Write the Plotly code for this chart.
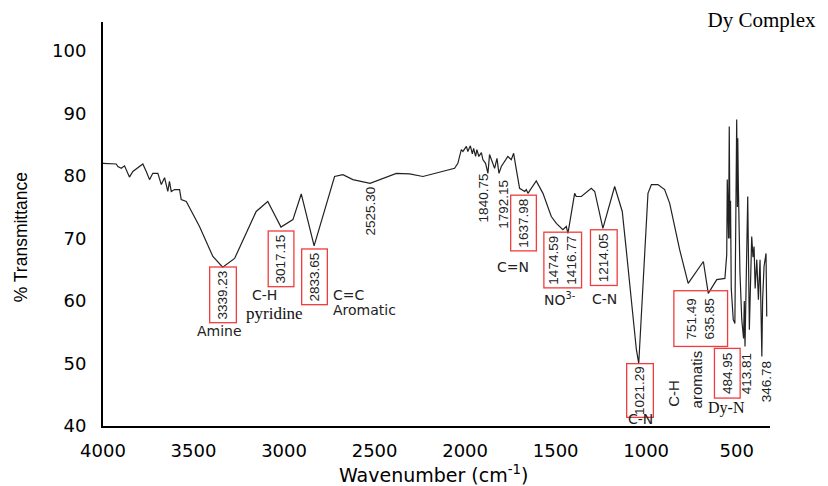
import plotly.graph_objects as go

# FT-IR spectrum of the Dy complex
wavenumber = [4000, 3927, 3918, 3899, 3881, 3854, 3835, 3780, 3761, 3743, 3725, 3697,
              3678, 3660, 3642, 3633, 3623, 3605, 3577, 3568, 3540, 3467, 3393, 3339,
              3273, 3154, 3090, 3017, 2951, 2905, 2834, 2730, 2721, 2675, 2620, 2525,
              2380, 2307, 2233, 2058, 2040, 2021, 2012, 1993, 1985, 1971, 1960, 1953,
              1942, 1935, 1924, 1910, 1902, 1887, 1874, 1865, 1850, 1837, 1824, 1813,
              1800, 1782, 1764, 1745, 1732, 1717, 1699, 1671, 1662, 1653, 1607, 1570,
              1524, 1496, 1460, 1441, 1432, 1395, 1386, 1358, 1303, 1284, 1239, 1174,
              1132, 1110, 1082, 1054, 1041, 1027, 1008, 990, 971, 935, 898, 870, 815,
              768, 684, 657, 610, 565, 555, 552, 545, 541, 537, 534, 530, 519, 510,
              506, 500, 496, 494, 491, 482, 472, 462, 458, 454, 439, 430, 417, 410,
              404, 398, 389, 380, 371, 361, 357, 349, 338, 334]
transmittance = [82.0, 81.9, 81.5, 81.2, 81.6, 79.8, 80.7, 81.9, 80.7, 79.4, 80.4, 80.4,
                 78.6, 79.7, 77.5, 79.1, 77.5, 77.8, 77.8, 76.2, 75.9, 71.9, 67.1, 65.4,
                 66.8, 74.3, 75.9, 71.8, 73.0, 77.1, 68.8, 79.4, 79.9, 80.2, 79.4, 78.8,
                 80.4, 80.3, 79.9, 81.2, 82.0, 84.2, 83.9, 84.7, 83.9, 84.8, 83.5, 84.4,
                 83.1, 84.2, 83.1, 83.7, 82.6, 82.0, 80.4, 83.4, 82.3, 81.2, 82.8, 80.4,
                 81.5, 82.3, 83.1, 82.6, 83.6, 81.0, 78.0, 77.5, 77.8, 77.2, 79.2, 77.2,
                 73.5, 72.4, 71.4, 71.9, 70.8, 77.2, 76.7, 76.7, 78.0, 77.5, 71.6, 78.3,
                 74.3, 68.2, 60.2, 52.2, 50.0, 57.5, 68.2, 77.2, 78.6, 78.6, 77.8, 75.6, 68.2,
                 62.8, 66.3, 61.2, 63.4, 63.6, 67.4, 79.4, 70.0, 87.9, 70.0, 76.0, 62.0, 57.0, 56.4,
                 70.0, 89.0, 75.0, 86.0, 78.9, 64.5, 57.0, 54.0, 60.0, 52.7, 76.7, 55.4, 70.3, 67.0,
                 68.7, 62.0, 66.6, 60.2, 66.6, 51.1, 60.0, 65.5, 67.6, 57.5]

x_ticks = [4000, 3500, 3000, 2500, 2000, 1500, 1000, 500]
y_ticks = [40, 50, 60, 70, 80, 90, 100]

x_title = "Wavenumber (cm<sup>-1</sup>)"
y_title = "% Transmittance"

# boxed peak labels
boxed_labels = ["3339.23", "3017.15", "2833.65", "1637.98", "1474.59<br>1416.77",
                "1214.05", "1021.29", "751.49<br>635.85", "484.95"]
# plain rotated peak labels
plain_labels = ["2525.30", "1840.75", "1792.15", "413.81", "346.78"]
# assignments
group_labels = ["Amine", "C-H", "C=C", "Aromatic", "C=N", "NO<sup>3-</sup>", "C-N", "C-N"]
serif_labels = ["pyridine", "Dy-N"]
rot_group_labels = ["C-H", "aromatis"]

sans = "Liberation Sans, Arial"
wide = "DejaVu Sans"
serif = "Liberation Serif, Times New Roman"
red = "#f03c3c"

fig = go.Figure()
fig.add_trace(go.Scatter(x=wavenumber, y=transmittance, mode="lines",
                         line=dict(color="#222222", width=1.2),
                         hoverinfo="skip", showlegend=False))

ann = []
boxed_pos = [(3339, 61.0, 50, 21), (3017.15, 66.8, 50, 20), (2833.65, 63.8, 50, 20),
             (1676, 72.5, 50, 20), (1460, 66.6, 50, 32), (1233, 67.0, 50, 21),
             (1034, 45.6, 48, 21), (699, 57.2, 50, 48), (552, 48.4, 44, 20)]
for txt, (x, y, w, h) in zip(boxed_labels, boxed_pos):
    ann.append(dict(x=x, y=y, text=txt, textangle=-90, showarrow=False,
                    width=w, height=h, borderpad=2, bordercolor=red, borderwidth=1.3,
                    font=dict(family=sans, size=13.5, color="#222")))

plain_pos = [(2525.3, 74.3), (1901, 76.4), (1790, 75.4), (444, 48.4), (334, 47.1)]
for txt, (x, y) in zip(plain_labels, plain_pos):
    ann.append(dict(x=x, y=y, text=txt, textangle=-90, showarrow=False,
                    font=dict(family=sans, size=13.5, color="#222")))

group_pos = [(3356, 55.2), (3107, 61.0), (2641, 61.0), (2554, 58.5),
             (1735, 65.4), (1476, 60.3), (1228, 60.3), (1034, 41.2)]
for txt, (x, y) in zip(group_labels, group_pos):
    ann.append(dict(x=x, y=y, text=txt, showarrow=False,
                    font=dict(family=wide, size=14, color="#222")))

serif_pos = [(3055, 58.0), (555, 42.8)]
serif_sizes = [17, 16]
for txt, (x, y), s in zip(serif_labels, serif_pos, serif_sizes):
    ann.append(dict(x=x, y=y, text=txt, showarrow=False,
                    font=dict(family=serif, size=s, color="#111")))

rot_pos = [(850, 45.2), (721, 47.4)]
for txt, (x, y) in zip(rot_group_labels, rot_pos):
    ann.append(dict(x=x, y=y, text=txt, textangle=-90, showarrow=False,
                    font=dict(family=sans, size=15, color="#222")))

# axis titles placed as paper annotations for exact positioning
ann.append(dict(xref="paper", yref="paper", x=0.496, y=-0.119, text=x_title,
                showarrow=False, xanchor="center", yanchor="middle",
                font=dict(family=wide, size=19, color="black")))
ann.append(dict(xref="paper", yref="paper", x=-0.123, y=0.467, text=y_title,
                textangle=-90, showarrow=False, xanchor="center", yanchor="middle",
                font=dict(family=sans, size=17.5, color="black")))

# the page body adds an 8px offset at top/left, so the figure is 8px smaller than the window
fig.update_layout(
    width=820, height=478,
    margin=dict(l=95, r=58, t=14, b=60),
    paper_bgcolor="white", plot_bgcolor="white",
    title=dict(text="Dy Complex", x=0.919, y=0.975, xanchor="center", yanchor="middle",
               font=dict(family=serif, size=21, color="black")),
    annotations=ann,
    xaxis=dict(range=[4000, 316], tickvals=x_ticks, showgrid=False, zeroline=False,
               showline=True, linecolor="black", linewidth=2, automargin=False,
               ticks="outside", ticklen=7, tickcolor="rgba(0,0,0,0)",
               tickfont=dict(family=wide, size=18, color="black")),
    yaxis=dict(range=[40, 104.6], tickvals=y_ticks, showgrid=False, zeroline=False,
               showline=True, linecolor="black", linewidth=2, automargin=False,
               ticks="outside", ticklen=11, tickcolor="rgba(0,0,0,0)",
               tickfont=dict(family=wide, size=18, color="black")),
)

fig.write_html("out.html")
